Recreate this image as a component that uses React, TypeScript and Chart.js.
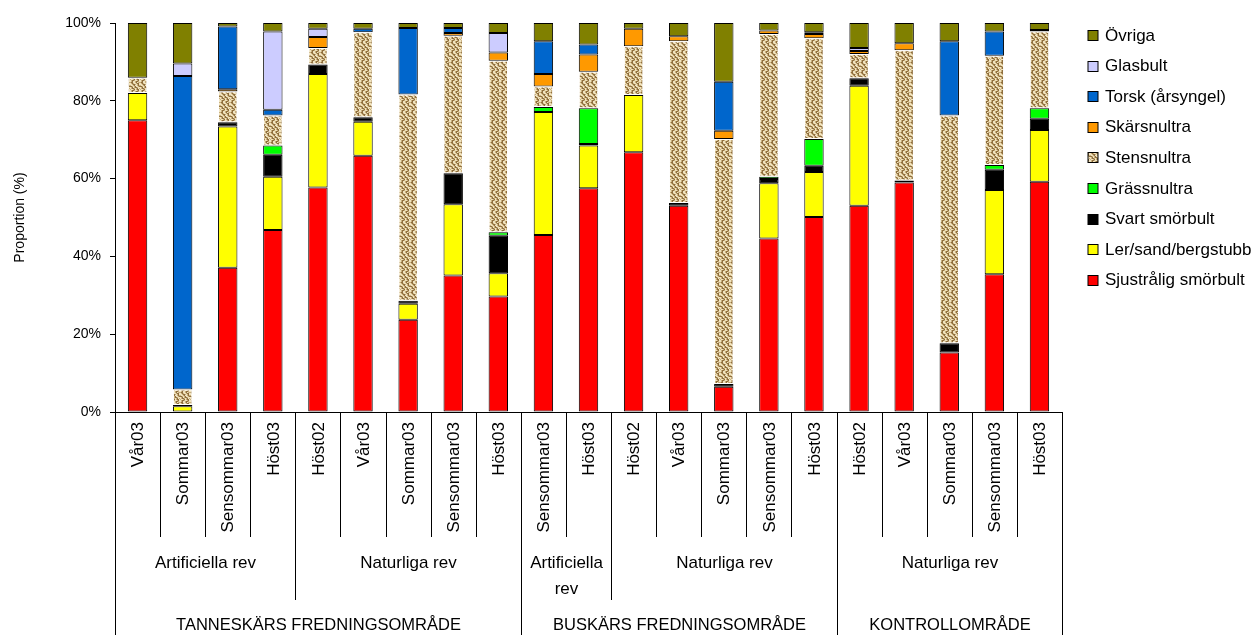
import React, { useEffect, useRef } from 'react';
import { Chart, registerables } from 'chart.js';

Chart.register(...registerables);

const FONT = '"Liberation Sans", Arial, Helvetica, sans-serif';

// ---- categories (multi-level x axis) ----
const categories = [
  'Vår03', 'Sommar03', 'Sensommar03', 'Höst03',
  'Höst02', 'Vår03', 'Sommar03', 'Sensommar03', 'Höst03',
  'Sensommar03', 'Höst03',
  'Höst02', 'Vår03', 'Sommar03', 'Sensommar03', 'Höst03',
  'Höst02', 'Vår03', 'Sommar03', 'Sensommar03', 'Höst03',
];
const habitatLabels = [['Artificiella rev'], ['Naturliga rev'], ['Artificiella', 'rev'], ['Naturliga rev'], ['Naturliga rev']];
const habitatSpans = [4, 5, 2, 5, 5];
const areaLabels = ['TANNESKÄRS FREDNINGSOMRÅDE', 'BUSKÄRS FREDNINGSOMRÅDE', 'KONTROLLOMRÅDE'];
const areaSpans = [9, 7, 5];

// ---- y axis ticks ----
const yTickStep = 20;
const yMax = 100;

// ---- series values (% of catch) ----
const sjustraligSmorbult = [75.0, 0.0, 37.1, 46.8, 57.7, 65.9, 23.7, 35.1, 29.7, 45.5, 57.5, 66.8, 53.0, 6.5, 44.6, 50.1, 53.0, 59.0, 15.3, 35.4, 59.2];
const lerSandBergstubb = [7.0, 1.5, 36.3, 13.7, 29.2, 8.7, 4.1, 18.3, 6.0, 31.6, 11.0, 14.7, 0.0, 0.0, 14.2, 11.6, 30.9, 0.5, 0.0, 21.7, 13.3];
const svartSmorbult = [0.0, 0.3, 1.1, 5.6, 2.4, 1.2, 0.8, 8.0, 9.6, 0.0, 0.4, 0.0, 0.7, 0.7, 1.1, 1.6, 1.9, 0.0, 2.4, 5.2, 2.9];
const grassnultra = [0.0, 0.0, 0.0, 2.4, 0.0, 0.0, 0.0, 0.0, 0.9, 1.3, 9.2, 0.0, 0.0, 0.0, 0.6, 6.9, 0.0, 0.0, 0.0, 1.2, 2.7];
const stensnultra = [3.9, 4.0, 7.9, 7.7, 4.3, 21.8, 53.0, 35.3, 44.1, 5.3, 9.4, 12.5, 41.6, 63.0, 36.7, 25.9, 6.2, 33.5, 58.5, 28.1, 19.7];
const skarsnultra = [0.0, 0.0, 0.6, 0.0, 2.8, 0.0, 0.0, 0.7, 2.1, 3.2, 4.4, 4.5, 1.3, 2.1, 0.9, 1.1, 0.8, 1.8, 0.0, 0.0, 0.0];
const torskArsyngel = [0.0, 80.6, 16.1, 1.5, 0.0, 0.9, 17.1, 1.3, 0.0, 8.4, 2.6, 0.0, 0.0, 12.6, 0.0, 0.4, 0.0, 0.0, 19.1, 6.2, 0.4];
const glasbult = [0.0, 3.2, 0.0, 20.1, 2.1, 0.0, 0.0, 0.0, 5.0, 0.0, 0.0, 0.0, 0.0, 0.0, 0.0, 0.0, 0.8, 0.0, 0.0, 0.0, 0.0];
const ovriga = [14.1, 10.4, 0.9, 2.2, 1.5, 1.5, 1.3, 1.3, 2.6, 4.7, 5.5, 1.5, 3.4, 15.1, 1.9, 2.4, 6.4, 5.2, 4.7, 2.2, 1.8];

const seriesNames = [
  'Sjustrålig smörbult', 'Ler/sand/bergstubb', 'Svart smörbult', 'Grässnultra',
  'Stensnultra', 'Skärsnultra', 'Torsk (årsyngel)', 'Glasbult', 'Övriga',
];
const seriesValues = [
  sjustraligSmorbult, lerSandBergstubb, svartSmorbult, grassnultra,
  stensnultra, skarsnultra, torskArsyngel, glasbult, ovriga,
];
const seriesColors = ['#FF0000', '#FFFF00', '#000000', '#00FF00', 'PATTERN', '#FF9900', '#0066CC', '#CCCCFF', '#808000'];

// texture tile for the "Stensnultra" fill
const textureRows = [
  'LMDDMLLMDL',
  'LMDLLMDDML',
  'MDDLLMDLMM',
  'LMDMLLMDDL',
  'LLMDDMLMDL',
  'MLLMDLLMDM',
  'DDMLMDLLMD',
  'LMDLMDDMLL',
  'LMDDMLMDLM',
  'MLLMDLMDDL',
];
const textureShades: Record<string, string> = { L: '#EFE3C0', M: '#C9AE7B', D: '#8E6E3E' };

function makeTexture(): CanvasPattern | string {
  const c = document.createElement('canvas');
  c.width = textureRows[0].length;
  c.height = textureRows.length;
  const g = c.getContext('2d');
  if (!g) return '#C8AC78';
  textureRows.forEach((row, y) => {
    row.split('').forEach((ch, x) => {
      g.fillStyle = textureShades[ch];
      g.fillRect(x, y, 1, 1);
    });
  });
  const p = g.createPattern(c, 'repeat');
  return p || '#C8AC78';
}

export default function App() {
  const canvasRef = useRef<HTMLCanvasElement | null>(null);

  useEffect(() => {
    const canvas = canvasRef.current;
    if (!canvas) return;
    const texture = makeTexture();

    const datasets = seriesNames.map((name, i) => ({
      label: name,
      data: seriesValues[i],
      backgroundColor: seriesColors[i] === 'PATTERN' ? texture : seriesColors[i],
      borderColor: seriesColors[i] === 'PATTERN' ? '#FFFFFF' : '#000000',
      borderWidth: 1,
      borderSkipped: false as const,
      barPercentage: 0.43,
      categoryPercentage: 1.0,
    }));

    const multiLevelAxis = {
      id: 'multiLevelAxis',
      afterDraw(chart: any) {
        const ctx: CanvasRenderingContext2D = chart.ctx;
        const xs = chart.scales.x;
        const area = chart.chartArea;
        const n = categories.length;
        const half = (xs.getPixelForValue(1) - xs.getPixelForValue(0)) / 2;
        const edgeX = (i: number) => Math.round(xs.getPixelForValue(i) - half) + 0.5;
        const axisY = area.bottom;
        const level1End = axisY + 125;
        const level2End = axisY + 188;
        const bottom = chart.height;

        const habitatBounds = new Set<number>();
        let acc = 0;
        habitatSpans.forEach((s) => { acc += s; habitatBounds.add(acc); });
        const areaBounds = new Set<number>();
        acc = 0;
        areaSpans.forEach((s) => { acc += s; areaBounds.add(acc); });

        ctx.save();
        ctx.strokeStyle = '#000000';
        ctx.lineWidth = 1;
        for (let i = 0; i <= n; i++) {
          let end = level1End;
          if (i === 0 || i === n || areaBounds.has(i)) end = bottom;
          else if (habitatBounds.has(i)) end = level2End;
          const x = edgeX(i);
          ctx.beginPath();
          ctx.moveTo(x, axisY);
          ctx.lineTo(x, end);
          ctx.stroke();
        }

        ctx.fillStyle = '#000000';
        // level 1: rotated category labels
        ctx.font = `17px ${FONT}`;
        categories.forEach((lab, i) => {
          const cx = xs.getPixelForValue(i);
          ctx.save();
          ctx.translate(cx, axisY + 10);
          ctx.rotate(-Math.PI / 2);
          ctx.textAlign = 'right';
          ctx.textBaseline = 'middle';
          ctx.fillText(lab, 0, 1);
          ctx.restore();
        });

        // level 2: habitat
        ctx.textAlign = 'center';
        ctx.textBaseline = 'middle';
        let start = 0;
        habitatSpans.forEach((s, k) => {
          const cx = (edgeX(start) + edgeX(start + s)) / 2;
          habitatLabels[k].forEach((line, j) => {
            ctx.fillText(line, cx, axisY + 151 + j * 26);
          });
          start += s;
        });

        // level 3: area
        ctx.font = `16.5px ${FONT}`;
        start = 0;
        areaSpans.forEach((s, k) => {
          const cx = (edgeX(start) + edgeX(start + s)) / 2;
          ctx.fillText(areaLabels[k], cx, axisY + 213);
          start += s;
        });

        // legend (reverse order, top = last series)
        ctx.font = `17px ${FONT}`;
        ctx.textAlign = 'left';
        const lx = area.right + 26;
        for (let k = 0; k < seriesNames.length; k++) {
          const idx = seriesNames.length - 1 - k;
          const cy = area.top + 12 + k * 30.6;
          const by = Math.round(cy - 5) + 0.5;
          const ds = chart.data.datasets[idx];
          ctx.fillStyle = ds.backgroundColor;
          ctx.fillRect(lx, by, 10, 10);
          ctx.strokeStyle = '#000000';
          ctx.strokeRect(lx, by, 10, 10);
          ctx.fillStyle = '#000000';
          ctx.fillText(seriesNames[idx], lx + 17, cy + 1);
        }
        ctx.restore();
      },
    };

    const chart = new Chart(canvas, {
      type: 'bar',
      data: { labels: categories, datasets },
      plugins: [multiLevelAxis],
      options: {
        responsive: false,
        animation: false,
        devicePixelRatio: 1,
        layout: { padding: { top: 23, right: 198, bottom: 0, left: 0 } },
        plugins: {
          legend: { display: false },
          tooltip: { enabled: false },
          title: { display: false },
        },
        scales: {
          x: {
            stacked: true,
            ticks: { display: false },
            grid: { display: false },
            border: { display: true, color: '#000000', width: 1 },
            afterFit: (s: any) => { s.height = 223; },
          },
          y: {
            stacked: true,
            min: 0,
            max: yMax,
            ticks: {
              stepSize: yTickStep,
              callback: (v: any) => `${v}%`,
              color: '#000000',
              font: { size: 14, family: FONT },
              padding: 9,
            },
            grid: { display: true, drawOnChartArea: false, drawTicks: true, tickLength: 5, color: '#000000' },
            border: { display: true, color: '#000000', width: 1 },
            title: {
              display: true,
              text: 'Proportion (%)',
              color: '#000000',
              font: { size: 14, family: FONT },
              padding: { top: 12, bottom: 0 },
            },
            afterFit: (s: any) => { s.width = 115; },
          },
        },
      },
    });

    return () => chart.destroy();
  }, []);

  return (
    <div style={{ position: 'fixed', left: 0, top: 0, width: 1260, height: 635, background: '#FFFFFF' }}>
      <canvas ref={canvasRef} width={1260} height={635} style={{ display: 'block' }} />
    </div>
  );
}
